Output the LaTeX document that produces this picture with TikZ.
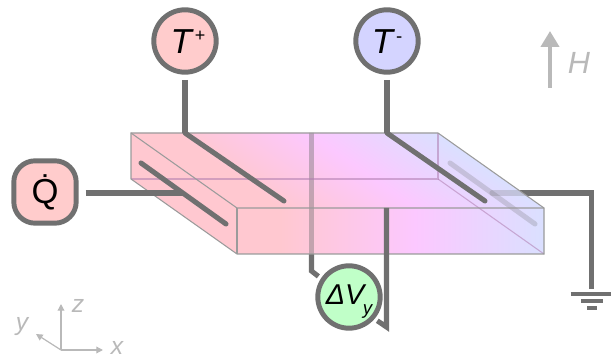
\documentclass[tikz,border=0pt]{standalone}
\usepackage{fontspec}
\setmainfont{Liberation Sans}
\usetikzlibrary{arrows.meta}
\definecolor{wire}{RGB}{112,112,112}
\definecolor{edgec}{RGB}{155,155,155}
\definecolor{pinkL}{RGB}{255,200,208}
\definecolor{pinkM}{RGB}{252,200,255}
\definecolor{blueR}{RGB}{218,224,255}
\definecolor{axisc}{RGB}{185,185,185}
\definecolor{redfill}{RGB}{255,204,204}
\definecolor{bluefill}{RGB}{212,212,255}
\definecolor{greenfill}{RGB}{192,255,200}
\pgfdeclarehorizontalshading{slabshade}{100bp}{color(0bp)=(pinkL); color(32bp)=(pinkL); color(54bp)=(pinkM); color(75bp)=(blueR); color(100bp)=(blueR)}
\tikzset{
 x=0.75pt,y=-0.75pt,
 wireline/.style={draw=wire,line width=3.8pt},
 tipline/.style={wireline,line cap=round},
 fadeline/.style={wireline,draw opacity=0.25},
 slabedge/.style={draw=edgec,line width=0.8pt},
 slabinner/.style={draw=edgec!80!magenta,draw opacity=0.55,line width=0.8pt},
 meter/.style={circle,draw=wire,line width=3.7pt,minimum size=46.8pt,inner sep=0pt,outer sep=5.8pt,font=\fontsize{26}{26}\selectfont\itshape},
 gndbar/.style={draw=wire,line width=3pt},
 axline/.style={draw=axisc,line width=0.9pt,-{Triangle[length=5pt,width=5pt]}},
 axlabel/.style={text=axisc,font=\fontsize{18.5}{18.5}\selectfont\itshape,inner sep=0pt},
}
\begin{document}
\begin{tikzpicture}
\useasboundingbox (0,0) rectangle (611,356);
\coordinate (btl) at (131,133);
\coordinate (btr) at (438,133);
\coordinate (ftl) at (237,208);
\coordinate (ftr) at (544,208);
\coordinate (bbl) at (131,179);
\coordinate (bbr) at (438,179);
\coordinate (fbl) at (237,254);
\coordinate (fbr) at (544,254);
% instruments
\node[meter,fill=redfill] (tp) at (185,41) {\kern4.5pt\smash{\raisebox{-9.5pt}{T}\raisebox{-0.5pt}{\fontsize{13.5}{13.5}\selectfont\upshape\,+}}};
\node[meter,fill=bluefill] (tm) at (387,41) {\smash{\raisebox{-9.5pt}{T}\raisebox{-1pt}{\fontsize{14}{14}\selectfont\upshape\,-}}};
\node[meter,fill=greenfill,outer sep=4.3pt,font=\fontsize{21.5}{21.5}\selectfont\itshape] (dv) at (349,297) {\smash{\raisebox{-5.6pt}{ΔV}\kern-1pt\raisebox{-12.8pt}{\fontsize{14}{14}\selectfont y}}};
\node[draw=wire,line width=3.7pt,fill=redfill,rounded corners=16pt,minimum size=46.8pt,inner sep=0pt,outer sep=7pt,font=\fontsize{26}{26}\selectfont] (q) at (45,192) {\smash{\raisebox{-9pt}{\.{Q}}}};
% junctions and wire ends
\coordinate (tpj) at (185,133);
\coordinate (tpe) at (284,201);
\coordinate (tmj) at (387,133);
\coordinate (tme) at (485,201);
\coordinate (dvla) at (311.5,133);
\coordinate (dvlb) at (311.5,271);
\coordinate (dvra) at (386.5,208);
\coordinate (dvrb) at (386.5,327);
\coordinate (qa) at (141,163);
\coordinate (qb) at (226,224);
\coordinate (qj) at (183,193);
\coordinate (ga) at (450,163);
\coordinate (gb) at (535,224);
\coordinate (gj) at (492,193);
\coordinate (gc) at (591.5,193);
\coordinate (gd) at (591.5,289);
% wires behind the slab
\draw[wireline] (dv.146) -- (dvlb) -- (dvla);
\draw[wireline] (gj) -- (gc) -- (gd);
% slab
\fill[pinkL] (btl) -- (ftl) -- (fbl) -- (bbl) -- cycle;
\shade[shading=slabshade] (ftl) rectangle (fbr);
\begin{scope}
 \clip (btl) -- (btr) -- (ftr) -- (ftl) -- cycle;
 \begin{scope}[transform canvas={cm={1,0,-1.4133,1,(-141pt,0pt)}}]
  \shade[shading=slabshade] (btl) rectangle (438,208);
 \end{scope}
\end{scope}
% seen through the slab
\begin{scope}
 \clip (btl) -- (btr) -- (ftr) -- (fbr) -- (fbl) -- (bbl) -- cycle;
 \draw[fadeline,draw opacity=0.42] (dvlb) -- (dvla);
 \draw[fadeline,line cap=round] (gj) -- (gc);
 \draw[fadeline,line cap=round] (ga) -- (gb);
\end{scope}
\draw[slabinner] (bbl) -- (bbr) -- (btr);
\draw[slabinner] (bbr) -- (fbr);
\draw[slabedge] (btl) -- (btr) -- (ftr) -- (fbr) -- (fbl) -- (bbl) -- cycle;
\draw[slabedge] (btl) -- (ftl) -- (ftr);
\draw[slabedge] (ftl) -- (fbl);
% wires in front
\draw[wireline] (tp.south) -- (tpj);
\draw[tipline] (tpj) -- (tpe);
\draw[wireline] (tm.south) -- (tmj);
\draw[tipline] (tmj) -- (tme);
\draw[wireline] (q.east |- qj) -- (qj);
\draw[tipline] (qa) -- (qb);
\draw[wireline] (dvra) -- (dvrb) -- (dv.-40);
% ground
\coordinate (g1l) at (570.5,294.5);
\coordinate (g1r) at (611,294.5);
\coordinate (g2l) at (581,301.5);
\coordinate (g2r) at (603,301.5);
\coordinate (g3l) at (587,308);
\coordinate (g3r) at (597,308);
\draw[gndbar] (g1l) -- (g1r);
\draw[gndbar] (g2l) -- (g2r);
\draw[gndbar] (g3l) -- (g3r);
% field arrow
\coordinate (ha) at (550,88);
\coordinate (hb) at (550,31);
\draw[draw=axisc,line width=3pt,-{Triangle[length=12pt,width=13.5pt]}] (ha) -- (hb);
\node[text=axisc,font=\fontsize{23}{23}\selectfont\itshape,inner sep=0pt] (hl) at (579,63) {H};
% axes
\coordinate (o) at (61,350);
\coordinate (zt) at (61,304);
\coordinate (xt) at (103,350);
\coordinate (yt) at (36,334);
\draw[axline] (o) -- (zt);
\draw[axline] (o) -- (xt);
\draw[axline] (o) -- (yt);
\node[axlabel] (zl) at (78,306) {z};
\node[axlabel] (yl) at (22,327) {y};
\node[axlabel] (xl) at (117,348) {x};
\end{tikzpicture}
\end{document}
